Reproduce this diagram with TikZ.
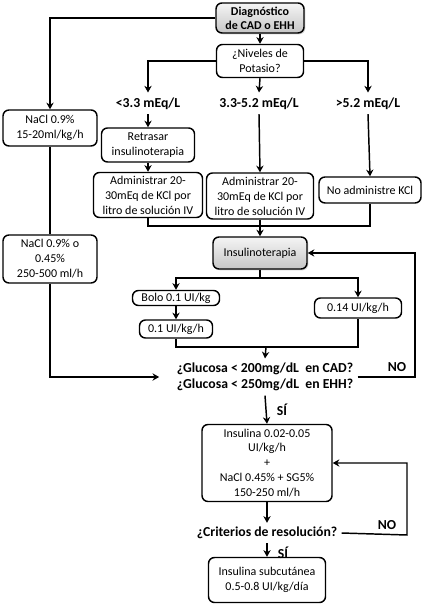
\documentclass[tikz,border=0pt]{standalone}
\usepackage{fontspec}
\setmainfont{Carlito}
\usetikzlibrary{arrows.meta,shadows}
\begin{document}
\begin{tikzpicture}[x=0.75pt,y=-0.75pt,
  every node/.style={font=\fontsize{9}{11.2}\selectfont, align=center, inner sep=1pt},
  box/.style={draw=black, line width=1.1pt, rounded corners=4.5pt, fill=white},
  graybox/.style={box, top color=gray!8, bottom color=gray!45, drop shadow={shadow xshift=1pt,shadow yshift=-1pt,opacity=0.35}},
  lbl/.style={font=\fontsize{10.3}{12.5}\selectfont\bfseries},
  con/.style={line width=1.1pt},
  arr/.style={con, -{Stealth[length=5pt,width=5.5pt]}}
]
\useasboundingbox (0,0) rectangle (423,605);
% nodes
\node[graybox, minimum width={88*0.75pt}, minimum height={30*0.75pt}, font=\fontsize{9}{10.4}\selectfont\bfseries] (diag) at (260,18) {Diagnóstico\\de CAD o EHH};
\node[box, minimum width={87*0.75pt}, minimum height={33*0.75pt}] (niv) at (260,61) {¿Niveles de\\Potasio?};
\node[lbl] (l1) at (148,104) {<3.3 mEq/L};
\node[lbl] (l2) at (259,104) {3.3-5.2 mEq/L};
\node[lbl] (l3) at (368,104) {>5.2 mEq/L};
\node[box, minimum width={94*0.75pt}, minimum height={36*0.75pt}] (nacl1) at (50,128) {NaCl 0.9\%\\15-20ml/kg/h};
\node[box, minimum width={93*0.75pt}, minimum height={34*0.75pt}] (retr) at (148,145) {Retrasar\\insulinoterapia};
\node[box, minimum width={109*0.75pt}, minimum height={45*0.75pt}] (adm1) at (148,195) {Administrar 20-\\30mEq de KCl por\\litro de solución IV};
\node[box, minimum width={107*0.75pt}, minimum height={46*0.75pt}] (adm2) at (260,196) {Administrar 20-\\30mEq de KCl por\\litro de solución IV};
\node[box, minimum width={102*0.75pt}, minimum height={26*0.75pt}] (noadm) at (370,190) {No administre KCl};
\node[box, minimum width={94*0.75pt}, minimum height={48*0.75pt}] (nacl2) at (50,259) {NaCl 0.9\% o\\0.45\%\\250-500 ml/h};
\node[graybox, minimum width={94*0.75pt}, minimum height={32*0.75pt}] (insu) at (260,253) {Insulinoterapia};
\node[box, minimum width={87*0.75pt}, minimum height={15*0.75pt}] (bolo) at (176,298) {Bolo 0.1 UI/kg};
\node[box, minimum width={73*0.75pt}, minimum height={18*0.75pt}] (u01) at (176,329) {0.1 UI/kg/h};
\node[box, minimum width={87*0.75pt}, minimum height={20*0.75pt}] (u014) at (358,308) {0.14 UI/kg/h};
\node[lbl, inner sep=3pt] (gluc) at (265,377) {¿Glucosa < 200mg/dL \ en CAD?\\¿Glucosa < 250mg/dL \ en EHH?};
\node[box, minimum width={130*0.75pt}, minimum height={77*0.75pt}] (insb) at (267,463) {Insulina 0.02-0.05\\UI/kg/h\\+\\NaCl 0.45\% + SG5\%\\150-250 ml/h};
\node[lbl, inner sep=3pt] (crit) at (267,533) {¿Criterios de resolución?};
\node[box, minimum width={117*0.75pt}, minimum height={45*0.75pt}] (sub) at (267,580) {Insulina subcutánea\\0.5-0.8 UI/kg/día};
\node[lbl] (no1) at (397,367) {NO};
\node[lbl] (no2) at (387,525) {NO};
\node[lbl] (si1) at (282,410) {SÍ};
\node[lbl] (si2) at (283,553) {SÍ};
% coordinates
\coordinate (jn) at (260,226);
\coordinate (jb) at (260,278);
\coordinate (jc) at (266,347);
\coordinate (nr) at (415,377);
\coordinate (cr) at (407,535);
% connectors
\draw[arr] (diag.south) -- (niv.north);
\draw[arr] (diag.west) -| (nacl1.north);
\draw[arr] (niv.west) -| ([yshift=3pt]l1.north);
\draw[arr] (niv.south) -- ([yshift=3pt]l2.north);
\draw[arr] (niv.east) -| ([yshift=3pt]l3.north);
\draw[arr] ([yshift=-2pt]l1.south) -- (retr.north);
\draw[arr] (retr.south) -- (adm1.north);
\draw[arr] ([yshift=-2pt]l2.south) -- (adm2.north);
\draw[arr] ([yshift=-2pt]l3.south) -- (noadm.north);
\draw[con] (nacl1.south) -- (nacl2.north);
\draw[con] (adm1.south) |- (jn) -| (noadm.south);
\draw[arr] (adm2.south) -- (insu.north);
\draw[con] (insu.south) -- (jb);
\draw[arr] (jb) -| (bolo.north);
\draw[arr] (jb) -| (u014.north);
\draw[arr] (bolo.south) -- (u01.north);
\draw[con] (u01.south) |- (jc) -| (u014.south);
\draw[arr] (jc) -- (gluc.north);
\draw[arr, shorten >=10pt] (nacl2.south) |- (gluc.west);
\draw[arr] (gluc.east) -- (nr) |- (insu.east);
\draw[arr] (gluc.south) -- (insb.north);
\draw[arr] (insb.south) -- (crit.north);
\draw[arr] (crit.east) -- (cr) |- (insb.east);
\draw[arr] (crit.south) -- (sub.north);
\end{tikzpicture}
\end{document}
